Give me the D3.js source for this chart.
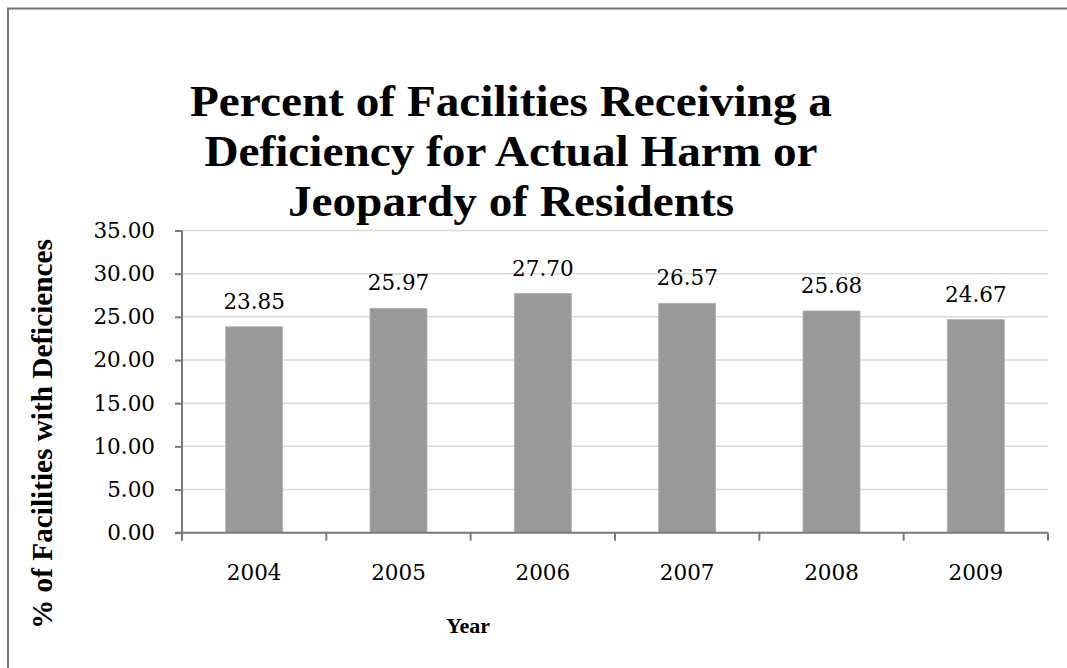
<!DOCTYPE html>
<html><head><meta charset="utf-8">
<script src="https://cdn.jsdelivr.net/npm/d3@7/dist/d3.min.js"></script>
<style>
html,body{margin:0;padding:0;background:#fff;}
svg{display:block;}
</style></head>
<body>
<svg id="chart" width="1067" height="668"></svg>
<script>
const titleLines = ["Percent of Facilities Receiving a", "Deficiency for Actual Harm or", "Jeopardy of Residents"];
const years = ["2004", "2005", "2006", "2007", "2008", "2009"];
const values = [23.85, 25.97, 27.70, 26.57, 25.68, 24.67];
const yTicks = [0, 5, 10, 15, 20, 25, 30, 35];
const yTitle = "% of Facilities with Deficiences";
const xTitle = "Year";

const svg = d3.select("#chart");
const numFont = "'DejaVu Serif', serif";
const boldFont = "'Liberation Serif', 'Times New Roman', serif";

function fitWidth(sel, target) {
  const node = sel.node();
  const fs = parseFloat(sel.attr("font-size"));
  const w = node.getComputedTextLength();
  sel.attr("font-size", (fs * target / w).toFixed(2));
}

svg.append("rect").attr("width", 1067).attr("height", 668).attr("fill", "#fff");
// outer border (top and left visible, rest cropped)
svg.append("rect").attr("x", 8).attr("y", 8.5).attr("width", 1100).attr("height", 700)
  .attr("fill", "none").attr("stroke", "#767676").attr("stroke-width", 2);

const plot = {left: 182, right: 1048, top: 230.5, bottom: 532.7};

const x = d3.scaleBand().domain(years).range([plot.left, plot.right]).paddingInner(0).paddingOuter(0);
const y = d3.scaleLinear().domain([0, 35]).range([plot.bottom, plot.top]);

// gridlines
svg.append("g").selectAll("line").data(yTicks.filter(d => d > 0)).join("line")
  .attr("x1", plot.left).attr("x2", plot.right)
  .attr("y1", d => y(d)).attr("y2", d => y(d))
  .attr("stroke", "#d9d9d9").attr("stroke-width", 1.5);

// bars
const barW = x.bandwidth() * 0.395;
svg.append("g").selectAll("rect").data(values).join("rect")
  .attr("x", (d, i) => x(years[i]) + (x.bandwidth() - barW) / 2)
  .attr("width", barW)
  .attr("y", d => y(d))
  .attr("height", d => y(0) - y(d))
  .attr("fill", "#999999")
  .attr("stroke", "#b0b0b0").attr("stroke-width", 0.8);

// data labels
svg.append("g").selectAll("text").data(values).join("text")
  .attr("x", (d, i) => x(years[i]) + x.bandwidth() / 2)
  .attr("y", d => y(d) - 18)
  .attr("text-anchor", "middle")
  .attr("font-family", numFont).attr("font-size", 21.5).attr("fill", "#000")
  .text(d => d3.format(".2f")(d));

// y axis
const yAxis = svg.append("g").attr("transform", `translate(${plot.left},0)`)
  .call(d3.axisLeft(y).tickValues(yTicks).tickFormat(d3.format(".2f")).tickSize(7).tickPadding(20));
yAxis.selectAll("path.domain").attr("stroke", "#7a7a7a").attr("stroke-width", 2)
  .attr("d", `M0,${plot.top}V${plot.bottom}`);
yAxis.selectAll(".tick line").attr("stroke", "#7a7a7a").attr("stroke-width", 2);
yAxis.selectAll("text").attr("font-family", numFont).attr("font-size", 21.5).attr("fill", "#000");

// x axis (labels)
const xAxis = svg.append("g").attr("transform", `translate(0,${plot.bottom})`)
  .call(d3.axisBottom(x).tickSize(0).tickPadding(32));
xAxis.select("path.domain").attr("stroke", "#7a7a7a").attr("stroke-width", 2)
  .attr("d", `M${plot.left - 7},0H${plot.right}`);
xAxis.selectAll("text").attr("font-family", numFont).attr("font-size", 21.5).attr("fill", "#000");
// x tick marks at category boundaries
const bounds = years.map(d => x(d)).concat([x(years[years.length - 1]) + x.bandwidth()]);
svg.append("g").selectAll("line").data(bounds).join("line")
  .attr("x1", d => d).attr("x2", d => d)
  .attr("y1", plot.bottom).attr("y2", plot.bottom + 8)
  .attr("stroke", "#7a7a7a").attr("stroke-width", 2);

// title
const titleBase = [116, 166, 216];
const titleFs = 45;
const titleG = svg.append("g");
titleLines.forEach((t, i) => {
  titleG.append("text").attr("x", 511).attr("y", titleBase[i])
    .attr("text-anchor", "middle").attr("font-family", boldFont)
    .attr("font-weight", "bold").attr("font-size", titleFs).attr("fill", "#000").text(t);
});
{
  const nodes = titleG.selectAll("text").nodes();
  const widths = nodes.map(n => n.getComputedTextLength());
  const k = 642 / widths[0];
  nodes.forEach((n, i) => {
    d3.select(n).attr("textLength", (widths[i] * k).toFixed(1)).attr("lengthAdjust", "spacingAndGlyphs");
  });
}

// y axis title
const yt = svg.append("text")
  .attr("transform", "translate(52,434) rotate(-90)")
  .attr("text-anchor", "middle").attr("font-family", boldFont).attr("font-weight", "bold")
  .attr("font-size", 22).attr("fill", "#000").text(yTitle);
fitWidth(yt, 390);

// x axis title
svg.append("text").attr("x", 468).attr("y", 633).attr("text-anchor", "middle")
  .attr("font-family", boldFont).attr("font-weight", "bold").attr("font-size", 22)
  .attr("fill", "#000").text(xTitle);
</script>
</body></html>
